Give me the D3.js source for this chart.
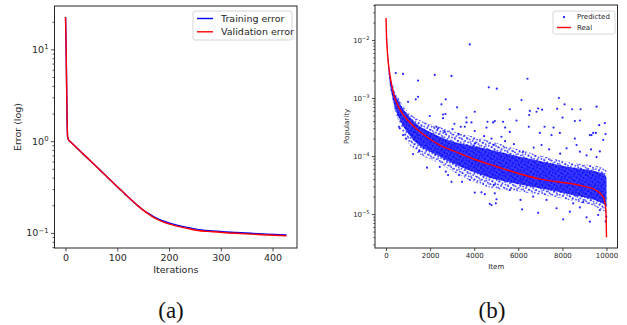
<!DOCTYPE html>
<html>
<head>
<meta charset="utf-8">
<script src="https://cdn.jsdelivr.net/npm/d3@7"></script>
<style>
  body { margin: 0; background: #fff; }
  svg { display: block; font-family: 'DejaVu Sans', sans-serif; }
</style>
</head>
<body>
<svg id="chart" width="627" height="325"></svg>
<script>
// (a) error per iteration, log scale
const iterations = [0, 1, 2, 3, 4, 6, 10, 20, 40, 60, 80, 100, 110, 120, 130, 140, 150, 160, 170, 187, 203, 219, 235, 252, 284, 329, 358, 390, 427];
const trainingError = [22.5, 12, 4.5, 1.8, 1.12, 1.03, 0.98, 0.865, 0.674, 0.525, 0.409, 0.319, 0.282, 0.249, 0.221, 0.197, 0.178, 0.163, 0.151, 0.136, 0.127, 0.12, 0.115, 0.11, 0.105, 0.101, 0.099, 0.097, 0.095];
const validationError = [22.5, 12, 4.5, 1.8, 1.12, 1.03, 0.98, 0.865, 0.674, 0.525, 0.409, 0.319, 0.282, 0.249, 0.221, 0.197, 0.177, 0.161, 0.148, 0.133, 0.124, 0.117, 0.112, 0.107, 0.103, 0.099, 0.097, 0.095, 0.093];
const iterTicks = [0, 100, 200, 300, 400];
const errorTicks = [0.1, 1, 10];

// (b) popularity per item, log scale
const realItems = [0, 20, 50, 100, 200, 300, 400, 500, 700, 1000, 1500, 2000, 2500, 3000, 4000, 5000, 6000, 7000, 8000, 8500, 9000, 9500, 9800, 9900, 9950, 9980, 10000];
const realPopularity = [0.024, 0.012, 0.0072, 0.0042, 0.0022, 0.0014, 1.0e-3, 8.0e-4, 5.7e-4, 4.1e-4, 2.7e-4, 1.95e-4, 1.5e-4, 1.25e-4, 8.8e-5, 6.6e-5, 5.0e-5, 4.0e-5, 3.5e-5, 3.3e-5, 3.0e-5, 2.6e-5, 2.1e-5, 1.75e-5, 1.4e-5, 1.0e-5, 4e-6];

// dense part of the predicted cloud (core) and its speckled edge (fringe)
const bandItems = [0, 100, 300, 600, 1100, 2400, 4500, 6500, 8300, 9850, 10000];
const coreHigh = [0.0255, 0.0048, 1.6e-3, 8.5e-4, 4.6e-4, 2.2e-4, 1.35e-4, 9.0e-5, 6.5e-5, 5.0e-5, 4.2e-5];
const coreLow = [0.0225, 0.0036, 1.0e-3, 4.5e-4, 2.2e-4, 1.0e-4, 4.5e-5, 3.0e-5, 2.2e-5, 1.5e-5, 1.3e-5];
const fringeHigh = [0.027, 0.0055, 1.8e-3, 9.5e-4, 5.3e-4, 3.2e-4, 1.9e-4, 1.15e-4, 7.8e-5, 6.2e-5, 5.5e-5];
const fringeLow = [0.021, 0.0032, 9.0e-4, 3.8e-4, 1.5e-4, 7.5e-5, 3.0e-5, 2.3e-5, 1.75e-5, 1.15e-5, 1.0e-5];

// scattered predictions: [item, popularity]
const predictedPoints = [
  [3800, 8.4e-3], [440, 2.7e-3], [772, 2.6e-3], [2210, 2.5e-3], [2968, 2.4e-3], [1453, 2.0e-3],
  [6418, 2.15e-3], [4662, 1.53e-3], [5025, 1.45e-3], [7840, 1.0e-3], [6146, 9.2e-4], [2710, 9.5e-4],
  [1348, 9.5e-4], [1453, 1.05e-3], [999, 8.6e-4], [8098, 7.8e-4], [2514, 7.8e-4], [3223, 6.9e-4],
  [4026, 5.8e-4], [5615, 6.4e-4], [6523, 6.0e-4], [6900, 6.6e-4], [6827, 5.8e-4], [7081, 6.3e-4],
  [7762, 6.5e-4], [8443, 6.4e-4], [8824, 6.4e-4], [9550, 7.1e-4], [6491, 5.1e-4], [8008, 4.6e-4],
  [3650, 4.6e-4], [2587, 5.2e-4], [2696, 5.3e-4], [1984, 4.9e-4], [2587, 4.5e-4], [8793, 4.1e-4],
  [9927, 3.7e-4], [5918, 4.1e-4], [5311, 3.9e-4], [4857, 3.8e-4], [4603, 3.9e-4], [4934, 4.0e-4],
  [3876, 3.8e-4], [3650, 3.8e-4], [8566, 4.0e-4], [9669, 3.4e-4], [5402, 3.1e-4], [6478, 3.2e-4],
  [7190, 3.2e-4], [7599, 3.1e-4], [3572, 3.2e-4], [3391, 3.2e-4], [2360, 3.0e-4], [2287, 3.2e-4],
  [3014, 2.9e-4], [4557, 3.1e-4], [9323, 2.3e-4], [8566, 2.0e-4], [9397, 2.5e-4], [9519, 2.5e-4],
  [9850, 1.9e-4], [9247, 2.3e-4], [7885, 2.5e-4], [7508, 2.3e-4], [6977, 2.5e-4], [5615, 2.6e-4],
  [5237, 2.15e-4], [4026, 2.7e-4], [4449, 2.2e-4], [4785, 2.0e-4], [2665, 2.6e-4], [4889, 1.55e-4],
  [7054, 1.55e-4], [8643, 1.55e-4], [8793, 1.19e-4], [8189, 1.36e-4], [6219, 1.19e-4], [9097, 1.03e-4],
  [9551, 9.6e-5], [4026, 1.64e-4], [9957, 2.4e-4], [5800, 1.6e-4], [6700, 1.4e-4], [7400, 1.3e-4],
  [5400, 1.8e-4], [3300, 2.4e-4], [3100, 3.6e-4], [7900, 1.1e-4], [9300, 1.3e-4], [9700, 1.2e-4],
  [1226, 1.08e-4], [1861, 6.3e-5], [2438, 6.5e-5], [2710, 5.4e-5], [2814, 4.7e-5], [3314, 4.7e-5],
  [2968, 3.6e-5], [3450, 3.6e-5], [3800, 3.9e-5], [4026, 2.35e-5], [4330, 2.37e-5], [4480, 2.2e-5],
  [4707, 1.5e-5], [4785, 1.43e-5], [5011, 1.8e-5], [4934, 2.28e-5], [4980, 1.53e-5], [4889, 3.2e-5],
  [5615, 2.6e-5], [6100, 1.75e-5], [6174, 1.2e-5], [6673, 2.0e-5], [6900, 1.05e-5], [7281, 1.75e-5],
  [7735, 1.26e-5], [8034, 8.1e-6], [8339, 1.1e-5], [8489, 1.53e-5], [8793, 1.3e-5], [8943, 1.6e-5],
  [9097, 8.8e-6], [9247, 7.4e-6], [9622, 9.6e-6], [9700, 1.17e-5], [9960, 7.5e-6], [9990, 9e-6],
  [590, 3.2e-4], [772, 2.3e-4], [545, 5.1e-4], [622, 3.0e-4], [900, 2.0e-4], [1500, 1.2e-4]
];
const itemTicks = [0, 2000, 4000, 6000, 8000, 10000];
const popularityTicks = [1e-5, 1e-4, 1e-3, 1e-2];

const svg = d3.select('#chart');
const ink = '#262626';
const blue = '#0000ff';
const red = '#ff0000';

function minorTicks(domain) {
  const ticks = [];
  const lo = Math.floor(Math.log10(domain[0]));
  const hi = Math.ceil(Math.log10(domain[1]));
  for (let e = lo; e <= hi; e++) {
    for (let m = 2; m <= 9; m++) {
      const v = m * Math.pow(10, e);
      if (v >= domain[0] && v <= domain[1]) ticks.push(v);
    }
  }
  return ticks;
}

// matplotlib style 10^n labels
function powerLabels(axisG) {
  axisG.selectAll('.tick text').each(function (d) {
    const t = d3.select(this);
    const exp = Math.round(Math.log10(d));
    t.text(null);
    t.append('tspan').text('10');
    t.append('tspan')
      .attr('dy', '-0.55em')
      .attr('font-size', '0.72em')
      .text(exp < 0 ? '\u2212' + Math.abs(exp) : String(exp));
  });
}

function styleAxis(axisG, fontSize) {
  axisG.select('.domain').remove();
  axisG.attr('font-family', null).attr('font-size', fontSize);
  axisG.selectAll('.tick line').attr('stroke', ink).attr('stroke-width', 0.8);
  axisG.selectAll('.tick text').attr('fill', ink);
}

function drawFrame(box) {
  svg.append('rect')
    .attr('x', box.left)
    .attr('y', box.top)
    .attr('width', box.right - box.left)
    .attr('height', box.bottom - box.top)
    .attr('fill', 'none')
    .attr('stroke', ink)
    .attr('stroke-width', 1);
}

function speckle(defs, id, cell, angle) {
  const pat = defs.append('pattern')
    .attr('id', id)
    .attr('width', cell).attr('height', cell)
    .attr('patternUnits', 'userSpaceOnUse')
    .attr('patternTransform', `rotate(${angle})`);
  pat.append('circle').attr('cx', cell / 2).attr('cy', cell / 2).attr('r', 0.9)
    .attr('fill', blue).attr('fill-opacity', 0.8);
}

function setupLeft() {
  const box = { left: 54.5, right: 297, top: 6, bottom: 248 };
  const fs = 9.5;
  const x = d3.scaleLinear().domain([-21.3, 447.3]).range([box.left, box.right]);
  const yDomain = [0.0685, 29.7];
  const y = d3.scaleLog().domain(yDomain).range([box.bottom, box.top]);

  const xAxisG = svg.append('g').attr('transform', `translate(0,${box.bottom})`)
    .call(d3.axisBottom(x).tickValues(iterTicks).tickSize(3.5).tickPadding(2.5).tickFormat(d3.format('d')));
  styleAxis(xAxisG, fs);

  const yAxisG = svg.append('g').attr('transform', `translate(${box.left},0)`)
    .call(d3.axisLeft(y).tickValues(errorTicks).tickSize(3.5).tickPadding(2.5));
  styleAxis(yAxisG, fs);
  powerLabels(yAxisG);

  const yMinorG = svg.append('g').attr('transform', `translate(${box.left},0)`)
    .call(d3.axisLeft(y).tickValues(minorTicks(yDomain)).tickSize(2).tickFormat(''));
  styleAxis(yMinorG, fs);

  const line = (values) => d3.line()
    .x((d, i) => x(iterations[i]))
    .y((d) => y(d))
    .curve(d3.curveMonotoneX)(values);

  svg.append('path').attr('d', line(trainingError))
    .attr('fill', 'none').attr('stroke', blue).attr('stroke-width', 1.4);
  svg.append('path').attr('d', line(validationError))
    .attr('fill', 'none').attr('stroke', red).attr('stroke-width', 1.4);

  drawFrame(box);

  svg.append('text')
    .attr('x', (box.left + box.right) / 2)
    .attr('y', 273)
    .attr('text-anchor', 'middle')
    .attr('font-size', fs)
    .attr('fill', ink)
    .text('Iterations');

  svg.append('text')
    .attr('transform', `translate(21,${(box.top + box.bottom) / 2}) rotate(-90)`)
    .attr('text-anchor', 'middle')
    .attr('font-size', fs)
    .attr('fill', ink)
    .text('Error (log)');

  // legend
  const lg = svg.append('g').attr('transform', 'translate(193,11)');
  lg.append('rect').attr('width', 99).attr('height', 29).attr('rx', 2)
    .attr('fill', '#fff').attr('fill-opacity', 0.8).attr('stroke', '#cccccc').attr('stroke-width', 0.8);
  [['Training error', blue], ['Validation error', red]].forEach(([label, color], i) => {
    const row = 7.5 + i * 13.3;
    lg.append('line').attr('x1', 4).attr('x2', 20).attr('y1', row).attr('y2', row)
      .attr('stroke', color).attr('stroke-width', 1.4);
    lg.append('text').attr('x', 28).attr('y', row).attr('dy', '0.35em')
      .attr('font-size', fs).attr('fill', ink).text(label);
  });
}

function setupRight() {
  const box = { left: 375, right: 617.5, top: 5, bottom: 248 };
  const fs = 7;
  const x = d3.scaleLinear().domain([-500, 10500]).range([box.left, box.right]);
  const yDomain = [2.6e-6, 0.0401];
  const y = d3.scaleLog().domain(yDomain).range([box.bottom, box.top]);

  // two crossing dot grids give the edge of the cloud a speckled look
  const defs = svg.append('defs');
  speckle(defs, 'speckleA', 3.3, 28);
  speckle(defs, 'speckleB', 4.4, -41);

  const g = svg.append('g');
  const band = (low, high) => d3.area()
    .x((d, i) => x(bandItems[i]))
    .y0((d, i) => y(low[i]))
    .y1((d, i) => y(high[i]))
    .curve(d3.curveMonotoneX)(bandItems);

  g.append('path').attr('d', band(fringeLow, fringeHigh)).attr('fill', 'url(#speckleA)');
  g.append('path').attr('d', band(fringeLow, fringeHigh)).attr('fill', 'url(#speckleB)');
  g.append('path').attr('d', band(coreLow, coreHigh)).attr('fill', blue).attr('fill-opacity', 0.78);

  g.selectAll('circle.pred')
    .data(predictedPoints)
    .enter()
    .append('circle')
    .attr('class', 'pred')
    .attr('cx', (d) => x(d[0]))
    .attr('cy', (d) => y(d[1]))
    .attr('r', 1.1)
    .attr('fill', blue)
    .attr('fill-opacity', 0.85);

  g.append('path')
    .attr('d', d3.line().x((d, i) => x(realItems[i])).y((d) => y(d)).curve(d3.curveMonotoneX)(realPopularity))
    .attr('fill', 'none')
    .attr('stroke', red)
    .attr('stroke-width', 1.4);

  const xAxisG = svg.append('g').attr('transform', `translate(0,${box.bottom})`)
    .call(d3.axisBottom(x).tickValues(itemTicks).tickSize(3).tickPadding(2.5).tickFormat(d3.format('d')));
  styleAxis(xAxisG, fs);

  const yAxisG = svg.append('g').attr('transform', `translate(${box.left},0)`)
    .call(d3.axisLeft(y).tickValues(popularityTicks).tickSize(3).tickPadding(2.5));
  styleAxis(yAxisG, fs);
  powerLabels(yAxisG);

  const yMinorG = svg.append('g').attr('transform', `translate(${box.left},0)`)
    .call(d3.axisLeft(y).tickValues(minorTicks(yDomain)).tickSize(1.7).tickFormat(''));
  styleAxis(yMinorG, fs);

  drawFrame(box);

  svg.append('text')
    .attr('x', (box.left + box.right) / 2)
    .attr('y', 269)
    .attr('text-anchor', 'middle')
    .attr('font-size', fs)
    .attr('fill', ink)
    .text('Item');

  svg.append('text')
    .attr('transform', `translate(349,${(box.top + box.bottom) / 2}) rotate(-90)`)
    .attr('text-anchor', 'middle')
    .attr('font-size', fs)
    .attr('fill', ink)
    .text('Popularity');

  // legend
  const lg = svg.append('g').attr('transform', 'translate(553,11)');
  lg.append('rect').attr('width', 62).attr('height', 23).attr('rx', 2)
    .attr('fill', '#fff').attr('fill-opacity', 0.8).attr('stroke', '#cccccc').attr('stroke-width', 0.8);
  lg.append('circle').attr('cx', 11).attr('cy', 6).attr('r', 1.1).attr('fill', blue);
  lg.append('line').attr('x1', 4).attr('x2', 18).attr('y1', 16.5).attr('y2', 16.5)
    .attr('stroke', red).attr('stroke-width', 1.4);
  [['Predicted', 6], ['Real', 16.5]].forEach(([label, row]) => {
    lg.append('text').attr('x', 24).attr('y', row).attr('dy', '0.35em')
      .attr('font-size', fs).attr('fill', ink).text(label);
  });
}

function setupCaptions() {
  [['(a)', 171], ['(b)', 492]].forEach(([label, cx]) => {
    svg.append('text')
      .attr('x', cx)
      .attr('y', 318)
      .attr('text-anchor', 'middle')
      .attr('font-family', "'Liberation Serif', 'DejaVu Serif', serif")
      .attr('font-size', 23)
      .attr('fill', '#111')
      .text(label);
  });
}

setupLeft();
setupRight();
setupCaptions();
</script>
</body>
</html>
